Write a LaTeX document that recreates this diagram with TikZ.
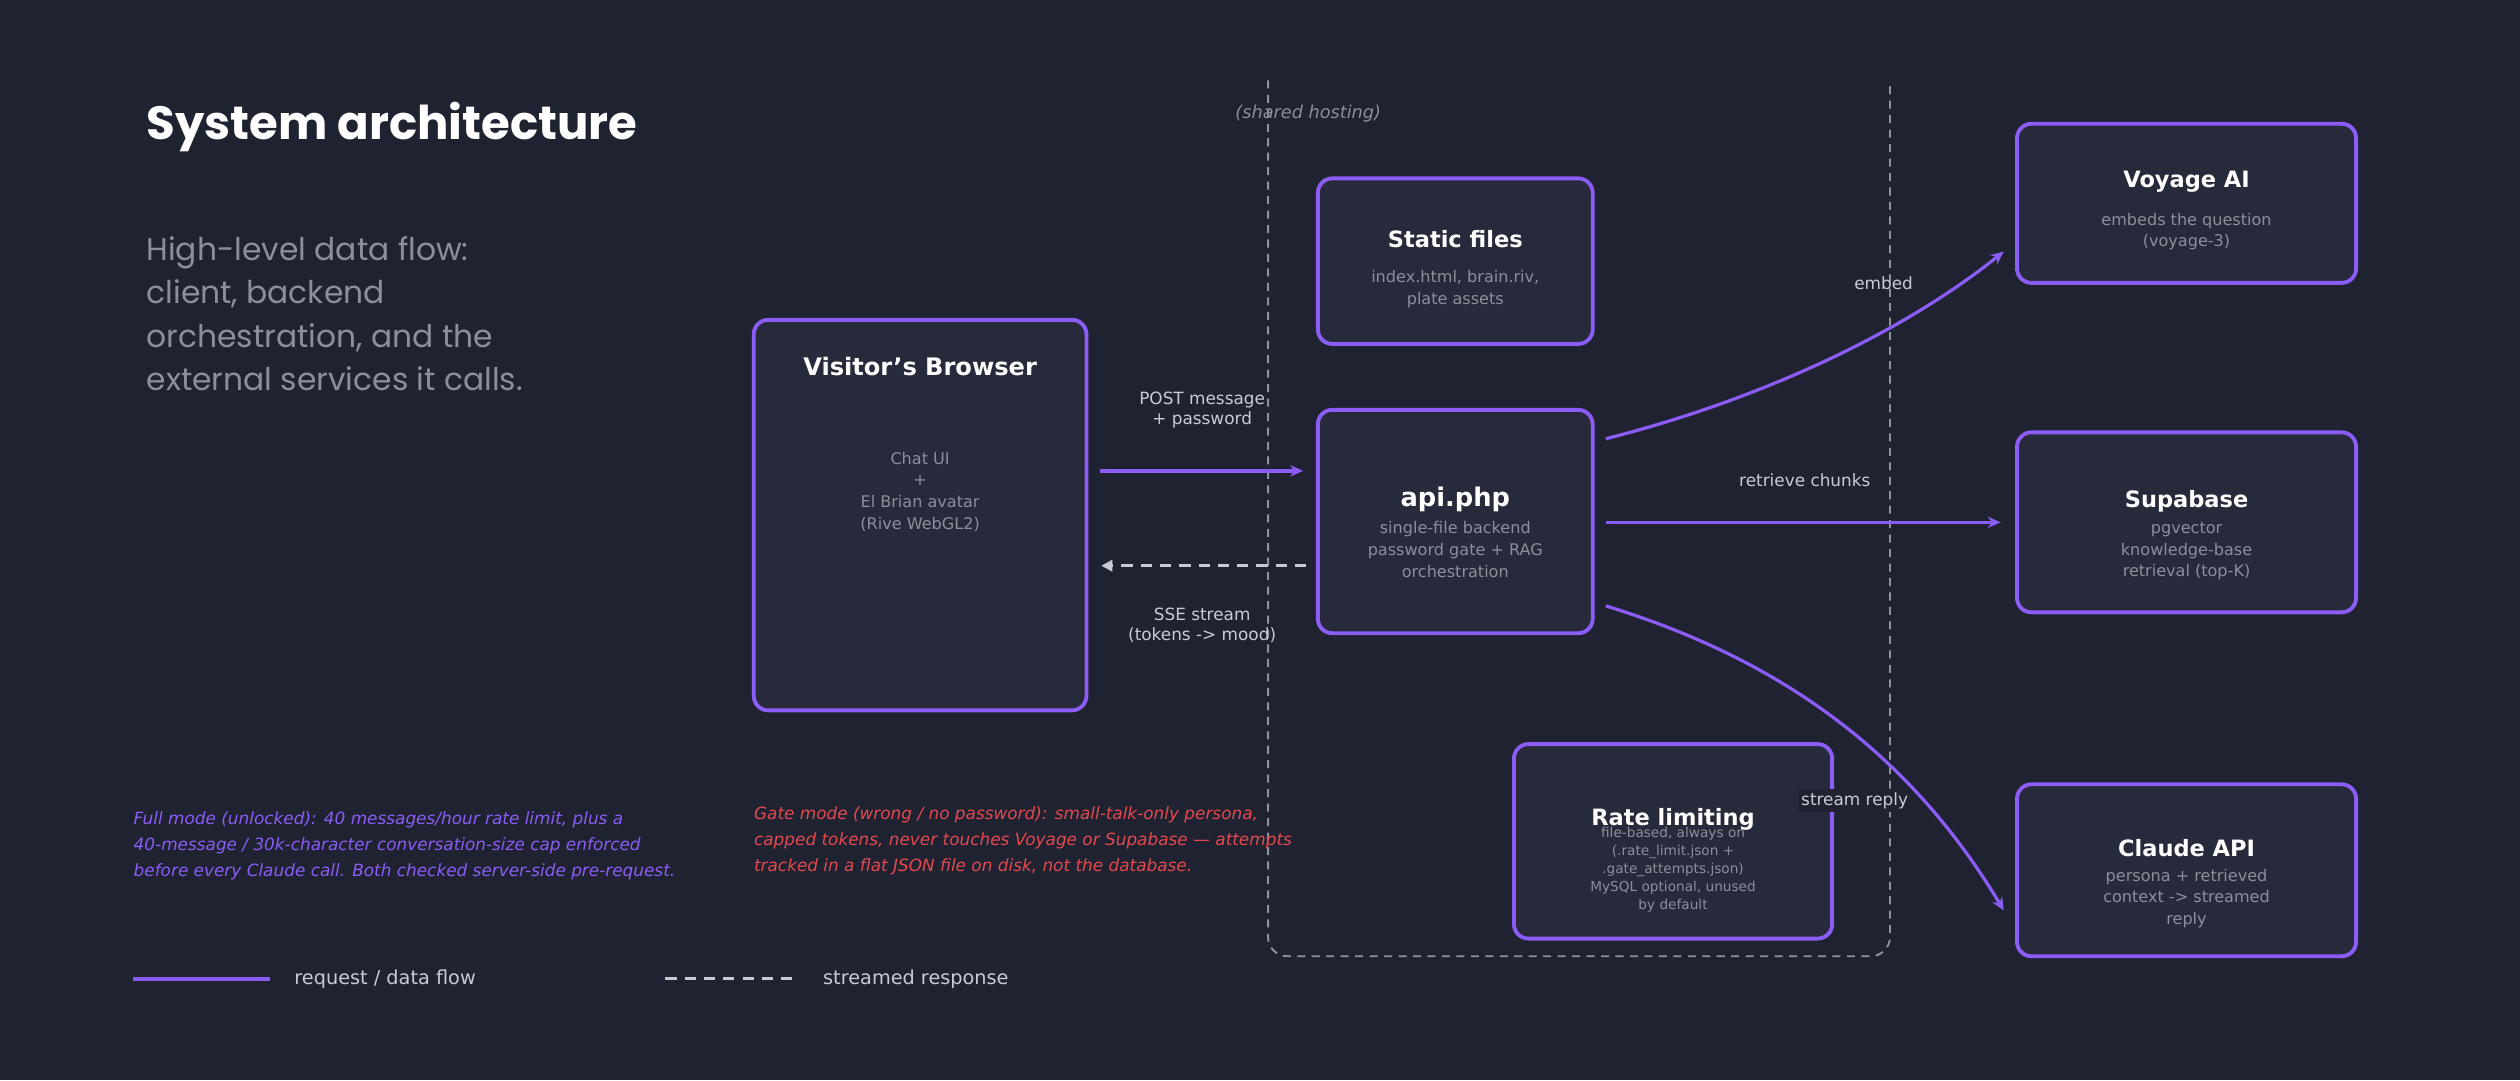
\documentclass[tikz,border=0pt]{standalone}
\usepackage{fontspec}
\setmainfont{DejaVu Sans}
\newfontfamily\headf{Poppins}
\usetikzlibrary{arrows.meta,positioning}
\definecolor{bg}{HTML}{1F2331}
\definecolor{boxfill}{HTML}{262A3B}
\definecolor{purp}{HTML}{8B5CF6}
\definecolor{mut}{HTML}{8B8F9C}
\definecolor{lbl}{HTML}{C9CBD3}
\definecolor{redt}{HTML}{E5484D}
\definecolor{dsh}{HTML}{8E929C}
\tikzset{
 box/.style={draw=purp,fill=boxfill,line width=2.4pt,rounded corners=9pt,inner sep=0},
 btitle/.style={text=white,font=\bfseries\fontsize{14}{16}\selectfont,inner sep=0},
 body/.style={text=mut,font=\fontsize{10}{13.5}\selectfont,align=center,inner sep=0},
 lab/.style={text=lbl,font=\fontsize{10.5}{12.5}\selectfont,align=center,inner sep=1pt},
 flow/.style={draw=purp,line width=2pt,-{Stealth[length=8pt,width=7pt]}},
 resp/.style={draw=lbl,line width=2pt,dash pattern=on 7pt off 5pt,-{Triangle[length=7pt,width=7pt]}},
 note/.style={font=\itshape\fontsize{10.5}{16}\selectfont,align=left,anchor=north west,inner sep=0},
}
\begin{document}
\begin{tikzpicture}[x=1pt,y=-1pt]
\fill[bg] (0,0) rectangle (1568,672);
\useasboundingbox (0,0) rectangle (1568,672);
% title
\node[anchor=west,text=white,inner sep=0,font=\headf\bfseries\fontsize{29}{32}\selectfont] (title) at (91,79) {System architecture};
\node[anchor=north west,text=mut,inner sep=0,align=left,font=\headf\fontsize{19.5}{27}\selectfont] (sub) at (91,147) {High-level data flow:\\client, backend\\orchestration, and the\\external services it calls.};
% hosting region
\draw[dsh,line width=1.2pt,dash pattern=on 5pt off 4pt,rounded corners=12pt] (789,50) -- (789,595) -- (1176,595) -- (1176,50);
\node[text=mut,font=\itshape\fontsize{11}{13}\selectfont,inner sep=0] (host) at (814,71) {(shared hosting)};
% boxes
\node[box,minimum width=207pt,minimum height=243pt] (browser) at (572.5,320.5) {};
\node[btitle,font=\bfseries\fontsize{15}{17}\selectfont] (browserT) at (572.5,228) {Visitor's Browser};
\node[body] (browserB) at (572.5,306) {Chat UI\\+\\El Brian avatar\\(Rive WebGL2)};
\node[box,minimum width=171pt,minimum height=103pt] (static) at (905.5,162.5) {};
\node[btitle] (staticT) at (905.5,149) {Static files};
\node[body] (staticB) at (905.5,180) {index.html, brain.riv,\\plate assets};
\node[box,minimum width=171pt,minimum height=139pt] (api) at (905.5,324.5) {};
\node[btitle,font=\bfseries\fontsize{16}{18}\selectfont] (apiT) at (905.5,311) {api.php};
\node[body] (apiB) at (905.5,342) {single-file backend\\password gate + RAG\\orchestration};
\node[box,minimum width=198pt,minimum height=121pt] (rate) at (1041,523.5) {};
\node[btitle] (rateT) at (1041,510) {Rate limiting};
\node[body,font=\fontsize{8.5}{11.2}\selectfont] (rateB) at (1041,541) {file-based, always on\\(.rate\_limit.json +\\.gate\_attempts.json)\\MySQL optional, unused\\by default};
\node[box,minimum width=211pt,minimum height=99pt] (voy) at (1360.5,126.5) {};
\node[btitle] (voyT) at (1360.5,113) {Voyage AI};
\node[body] (voyB) at (1360.5,144) {embeds the question\\(voyage-3)};
\node[box,minimum width=211pt,minimum height=112pt] (supa) at (1360.5,325) {};
\node[btitle] (supaT) at (1360.5,312) {Supabase};
\node[body] (supaB) at (1360.5,343) {pgvector\\knowledge-base\\retrieval (top-K)};
\node[box,minimum width=211pt,minimum height=107pt] (claude) at (1360.5,541.5) {};
\node[btitle] (claudeT) at (1360.5,528) {Claude API};
\node[body] (claudeB) at (1360.5,559) {persona + retrieved\\context -> streamed\\reply};
% arrows
\draw[flow] ([xshift=7pt]browser.east |- 0,293) -- ([xshift=-8pt]api.west |- 0,293);
\node[lab] (postL) at (748,255) {POST message\\+ password};
\draw[resp] ([xshift=-6pt]api.west |- 0,352) -- ([xshift=8pt]browser.east |- 0,352);
\node[lab] (sseL) at (748,389) {SSE stream\\(tokens -> mood)};
\draw[flow] ([xshift=7pt]api.east |- 0,273) .. controls (1090,250) and (1180,210) .. ([xshift=-7pt,yshift=-30pt]voy.west);
\node[lab] (embL) at (1172,176) {embed};
\draw[flow] ([xshift=7pt]api.east |- 0,325) -- ([xshift=-9pt]supa.west);
\node[lab] (retL) at (1123,299) {retrieve chunks};
\draw[flow] ([xshift=7pt]api.east |- 0,377) .. controls (1090,405) and (1180,455) .. ([xshift=-7pt,yshift=-25pt]claude.west);
\node[lab,fill=bg,inner sep=2pt] (strL) at (1154,498) {stream reply};
% notes
\node[note,text=purp] (full) at (83,505) {Full mode (unlocked): 40 messages/hour rate limit, plus a\\40-message / 30k-character conversation-size cap enforced\\before every Claude call. Both checked server-side pre-request.};
\node[note,text=redt] (gate) at (469,502) {Gate mode (wrong / no password): small-talk-only persona,\\capped tokens, never touches Voyage or Supabase — attempts\\tracked in a flat JSON file on disk, not the database.};
% legend
\coordinate (l1a) at (83,609); \coordinate (l1b) at (168,609);
\draw[purp,line width=2.4pt] (l1a) -- (l1b);
\node[anchor=west,text=lbl,font=\fontsize{12}{14}\selectfont,inner sep=0] (leg1) at (183,609) {request / data flow};
\coordinate (l2a) at (414,609); \coordinate (l2b) at (497,609);
\draw[lbl,line width=1.6pt,dash pattern=on 7pt off 5pt] (l2a) -- (l2b);
\node[anchor=west,text=lbl,font=\fontsize{12}{14}\selectfont,inner sep=0] (leg2) at (512,609) {streamed response};
\end{tikzpicture}
\end{document}
